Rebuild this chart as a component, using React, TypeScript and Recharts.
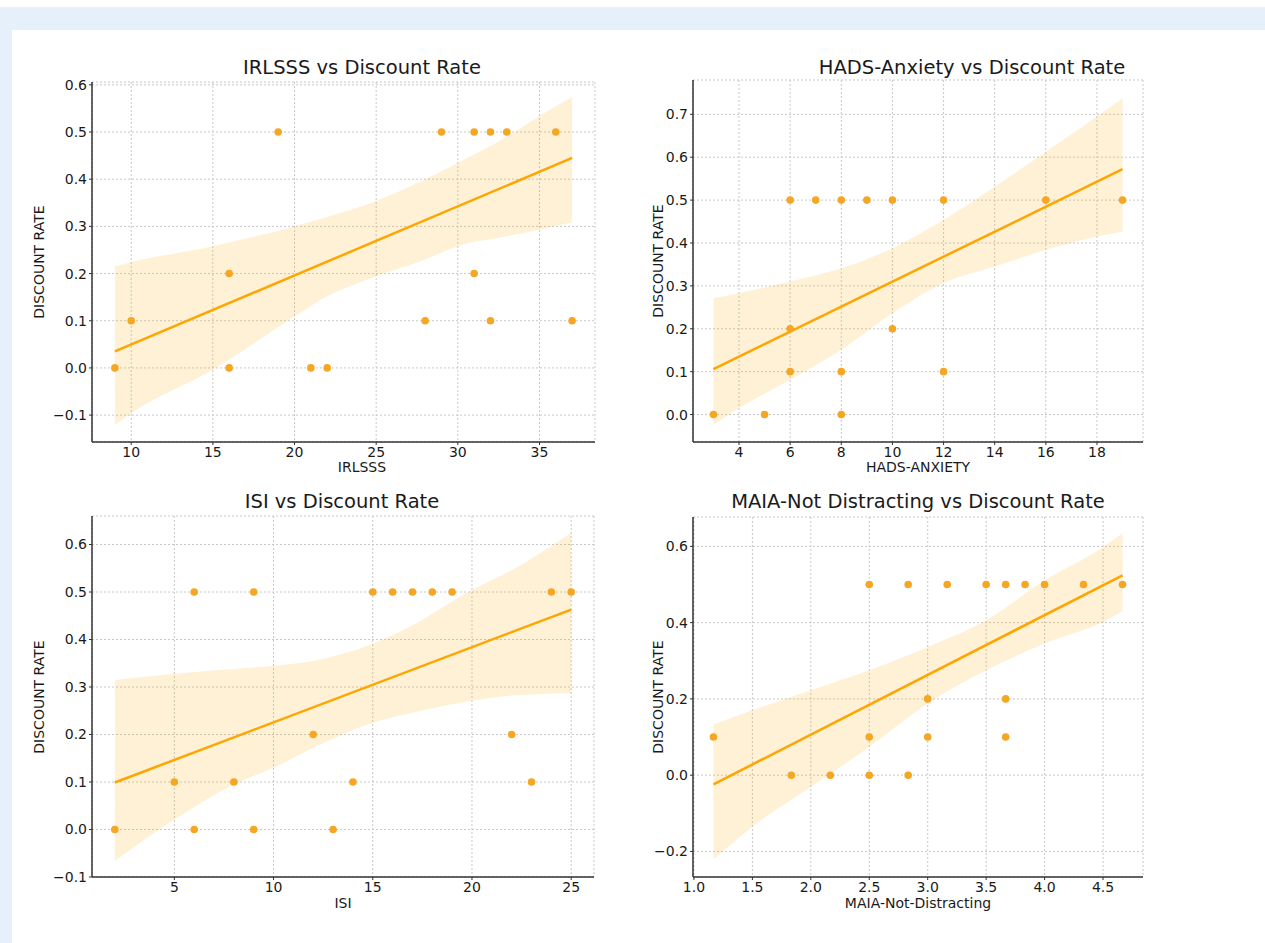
import { Area, CartesianGrid, ComposedChart, Line, Scatter, XAxis, YAxis } from "recharts"

// IRLSSS panel
const irlsssX = [9, 10, 16, 16, 19, 21, 22, 28, 29, 31, 31, 32, 32, 33, 36, 37]
const irlsssY = [0, 0.1, 0.2, 0, 0.5, 0, 0, 0.1, 0.5, 0.5, 0.2, 0.5, 0.1, 0.5, 0.5, 0.1]
const irlsssBandX = [9, 10, 15, 20, 22, 25, 28, 30, 33, 35, 37]
const irlsssBandLo = [-0.121, -0.096, -0.004, 0.109, 0.152, 0.194, 0.23, 0.258, 0.279, 0.293, 0.308]
const irlsssBandHi = [0.215, 0.224, 0.258, 0.3, 0.32, 0.354, 0.4, 0.435, 0.49, 0.534, 0.574]
const irlsssLineX = [9, 37]
const irlsssLineY = [0.035, 0.445]

// HADS-Anxiety panel
const hadsX = [3, 5, 6, 6, 6, 7, 8, 8, 8, 9, 10, 10, 12, 12, 16, 19]
const hadsY = [0, 0, 0.5, 0.2, 0.1, 0.5, 0.5, 0.1, 0, 0.5, 0.5, 0.2, 0.5, 0.1, 0.5, 0.5]
const hadsBandX = [3, 4, 6, 8, 10, 12, 14, 16, 18, 19]
const hadsBandLo = [-0.024, 0.015, 0.081, 0.151, 0.236, 0.306, 0.345, 0.384, 0.415, 0.427]
const hadsBandHi = [0.271, 0.283, 0.31, 0.341, 0.388, 0.454, 0.531, 0.613, 0.695, 0.737]
const hadsLineX = [3, 19]
const hadsLineY = [0.106, 0.572]

// ISI panel
const isiX = [2, 5, 6, 6, 8, 9, 9, 12, 13, 14, 15, 16, 17, 18, 19, 22, 23, 24, 25]
const isiY = [0, 0.1, 0.5, 0, 0.1, 0.5, 0, 0.2, 0, 0.1, 0.5, 0.5, 0.5, 0.5, 0.5, 0.2, 0.1, 0.5, 0.5]
const isiBandX = [2, 5, 8, 10, 12, 15, 17, 20, 22, 25]
const isiBandLo = [-0.066, 0.021, 0.095, 0.13, 0.172, 0.225, 0.246, 0.271, 0.282, 0.287]
const isiBandHi = [0.315, 0.328, 0.338, 0.345, 0.355, 0.391, 0.43, 0.504, 0.546, 0.625]
const isiLineX = [2, 25]
const isiLineY = [0.099, 0.463]

// MAIA-Not Distracting panel
const maiaX = [1.167, 1.833, 2.167, 2.5, 2.5, 2.5, 2.833, 2.833, 3.0, 3.0, 3.167, 3.5, 3.667, 3.667, 3.667, 3.833, 4.0, 4.333, 4.667]
const maiaY = [0.1, 0, 0, 0.5, 0.1, 0, 0.5, 0, 0.2, 0.1, 0.5, 0.5, 0.5, 0.2, 0.1, 0.5, 0.5, 0.5, 0.5]
const maiaBandX = [1.167, 1.5, 2.0, 2.5, 3.0, 3.5, 4.0, 4.5, 4.667]
const maiaBandLo = [-0.221, -0.135, -0.031, 0.074, 0.188, 0.275, 0.345, 0.402, 0.43]
const maiaBandHi = [0.133, 0.17, 0.223, 0.275, 0.336, 0.406, 0.511, 0.598, 0.635]
const maiaLineX = [1.167, 4.667]
const maiaLineY = [-0.024, 0.524]

// tick labels
const irlsssTicks = [10, 15, 20, 25, 30, 35]
const hadsTicks = [4, 6, 8, 10, 12, 14, 16, 18]
const isiTicks = [5, 10, 15, 20, 25]
const maiaTicks = [1.0, 1.5, 2.0, 2.5, 3.0, 3.5, 4.0, 4.5]
const rateTicksA = [-0.1, 0.0, 0.1, 0.2, 0.3, 0.4, 0.5, 0.6]
const rateTicksB = [0.0, 0.1, 0.2, 0.3, 0.4, 0.5, 0.6, 0.7]
const rateTicksC = [-0.2, 0.0, 0.2, 0.4, 0.6]

const FONT = "'DejaVu Sans', sans-serif"
const AXIS = "#333333"
const ORANGE = "#ffa500"
const DOT = "#f5a623"
const TEXT = "#1a1a1a"

const zip = (xs: number[], ys: number[]) => xs.map((x, i) => ({ x, y: ys[i] }))
const zipBand = (xs: number[], lo: number[], hi: number[]) => xs.map((x, i) => ({ x, band: [lo[i], hi[i]] }))
const fmt1 = (v: number) => (v < 0 ? "\u2212" : "") + Math.abs(v).toFixed(1)

type PanelProps = {
  left: number
  top: number
  right: number
  bottom: number
  title: string
  titleX: number
  titleY: number
  xLabel: string
  xLabelX: number
  xLabelY: number
  yLabelX: number
  xDomain: number[]
  yDomain: number[]
  xTicks: number[]
  yTicks: number[]
  xFmt: (v: number) => string
  points: { x: number; y: number }[]
  band: { x: number; band: number[] }[]
  line: { x: number; y: number }[]
}

function Panel(p: PanelProps) {
  const yAxisW = 70
  const boxLeft = p.left - yAxisW
  const boxTop = p.top - 10
  const w = p.right - p.left + yAxisW + 10
  const h = p.bottom - p.top + 10 + 30
  const tickStyle = { fontSize: 14, fill: TEXT, fontFamily: FONT }

  return (
    <>
      <div
        style={{
          position: "absolute",
          left: p.titleX - 300,
          width: 600,
          top: p.titleY - 12,
          textAlign: "center",
          fontSize: 19.5,
          fontFamily: FONT,
          color: TEXT,
          lineHeight: "24px",
          whiteSpace: "nowrap",
        }}
      >
        {p.title}
      </div>
      <div
        style={{
          position: "absolute",
          left: p.xLabelX - 200,
          width: 400,
          top: p.xLabelY - 9,
          textAlign: "center",
          fontSize: 14,
          fontFamily: FONT,
          color: TEXT,
          lineHeight: "18px",
        }}
      >
        {p.xLabel}
      </div>
      <div
        style={{
          position: "absolute",
          left: p.yLabelX - 100,
          width: 200,
          top: (p.top + p.bottom) / 2 - 9,
          textAlign: "center",
          fontSize: 14,
          fontFamily: FONT,
          color: TEXT,
          lineHeight: "18px",
          transform: "rotate(-90deg)",
        }}
      >
        DISCOUNT RATE
      </div>
      <div style={{ position: "absolute", left: boxLeft, top: boxTop }}>
        <ComposedChart width={w} height={h} margin={{ top: 10, right: 10, bottom: 0, left: 0 }}>
          <CartesianGrid stroke="#c8c8c8" strokeDasharray="2 2" />
          <XAxis
            type="number"
            dataKey="x"
            domain={p.xDomain}
            ticks={p.xTicks}
            allowDataOverflow
            height={30}
            tickFormatter={p.xFmt}
            tick={tickStyle}
            tickSize={3}
            tickMargin={2}
            stroke={AXIS}
            axisLine={{ stroke: AXIS, strokeWidth: 1.5 }}
            tickLine={{ stroke: AXIS }}
          />
          <YAxis
            type="number"
            domain={p.yDomain}
            ticks={p.yTicks}
            allowDataOverflow
            width={yAxisW}
            tickFormatter={fmt1}
            tick={tickStyle}
            tickSize={3}
            tickMargin={2}
            stroke={AXIS}
            axisLine={{ stroke: AXIS, strokeWidth: 1.5 }}
            tickLine={{ stroke: AXIS }}
          />
          <Area
            data={p.band}
            dataKey="band"
            type="monotone"
            stroke="none"
            fill={ORANGE}
            fillOpacity={0.16}
            isAnimationActive={false}
          />
          <Line
            data={p.line}
            dataKey="y"
            type="linear"
            stroke={ORANGE}
            strokeWidth={2.5}
            dot={false}
            isAnimationActive={false}
          />
          <Scatter
            data={p.points}
            dataKey="y"
            fill={DOT}
            isAnimationActive={false}
            shape={(s: any) => <circle cx={s.cx} cy={s.cy} r={3.8} fill={DOT} />}
          />
        </ComposedChart>
      </div>
    </>
  )
}

export default function App() {
  return (
    <div
      style={{
        position: "absolute",
        left: 0,
        top: 0,
        width: 1265,
        height: 943,
        background: "#ffffff",
        overflow: "hidden",
      }}
    >
      <div style={{ position: "absolute", left: 0, top: 7, width: 1265, height: 23, background: "#e6f0fa" }} />
      <div style={{ position: "absolute", left: 0, top: 7, width: 12, height: 936, background: "#e6f0fa" }} />

      <Panel
        left={92}
        top={82}
        right={595}
        bottom={442}
        title="IRLSSS vs Discount Rate"
        titleX={362}
        titleY={68}
        xLabel="IRLSSS"
        xLabelX={362}
        xLabelY={467}
        yLabelX={39}
        xDomain={[7.6, 38.4]}
        yDomain={[-0.157, 0.606]}
        xTicks={irlsssTicks}
        yTicks={rateTicksA}
        xFmt={(v) => String(v)}
        points={zip(irlsssX, irlsssY)}
        band={zipBand(irlsssBandX, irlsssBandLo, irlsssBandHi)}
        line={zip(irlsssLineX, irlsssLineY)}
      />
      <Panel
        left={693}
        top={80}
        right={1143}
        bottom={442}
        title="HADS-Anxiety vs Discount Rate"
        titleX={972}
        titleY={68}
        xLabel="HADS-ANXIETY"
        xLabelX={918}
        xLabelY={467}
        yLabelX={658}
        xDomain={[2.2, 19.8]}
        yDomain={[-0.064, 0.78]}
        xTicks={hadsTicks}
        yTicks={rateTicksB}
        xFmt={(v) => String(v)}
        points={zip(hadsX, hadsY)}
        band={zipBand(hadsBandX, hadsBandLo, hadsBandHi)}
        line={zip(hadsLineX, hadsLineY)}
      />
      <Panel
        left={92}
        top={516}
        right={594}
        bottom={877}
        title="ISI vs Discount Rate"
        titleX={342}
        titleY={502}
        xLabel="ISI"
        xLabelX={343}
        xLabelY={903}
        yLabelX={39}
        xDomain={[0.85, 26.15]}
        yDomain={[-0.1, 0.66]}
        xTicks={isiTicks}
        yTicks={rateTicksA}
        xFmt={(v) => String(v)}
        points={zip(isiX, isiY)}
        band={zipBand(isiBandX, isiBandLo, isiBandHi)}
        line={zip(isiLineX, isiLineY)}
      />
      <Panel
        left={693}
        top={517}
        right={1143}
        bottom={877}
        title="MAIA-Not Distracting vs Discount Rate"
        titleX={918}
        titleY={502}
        xLabel="MAIA-Not-Distracting"
        xLabelX={918}
        xLabelY={903}
        yLabelX={658}
        xDomain={[0.992, 4.842]}
        yDomain={[-0.267, 0.677]}
        xTicks={maiaTicks}
        yTicks={rateTicksC}
        xFmt={(v) => v.toFixed(1)}
        points={zip(maiaX, maiaY)}
        band={zipBand(maiaBandX, maiaBandLo, maiaBandHi)}
        line={zip(maiaLineX, maiaLineY)}
      />
    </div>
  )
}
